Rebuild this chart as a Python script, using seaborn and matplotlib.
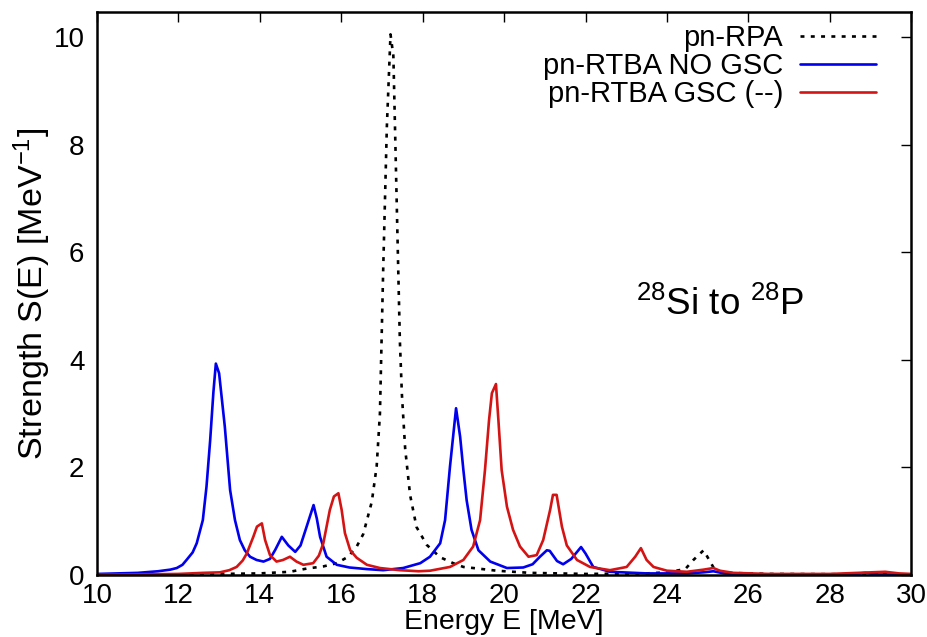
import matplotlib
matplotlib.use("Agg")
import matplotlib.pyplot as plt
import seaborn as sns
import pandas as pd

# Strength functions S(E) [MeV^-1] vs excitation energy E [MeV]
rpa_E = [10.0, 12.0, 13.0, 14.0, 14.74, 15.15, 15.56, 15.89, 16.17, 16.38, 16.54,
         16.75, 16.87, 16.95, 16.99, 17.03, 17.12, 17.21, 17.28, 17.32, 17.36, 17.40,
         17.44, 17.49, 17.57, 17.69, 17.85, 18.1, 18.43, 18.75, 19.0, 19.24, 19.82,
         20.64, 22.0, 23.5, 24.0, 24.45, 24.65, 24.9, 25.06, 25.18, 25.5, 26.5, 30.0]
rpa_S = [0.01, 0.01, 0.02, 0.03, 0.06, 0.12, 0.16, 0.22, 0.34, 0.53, 0.76,
         1.36, 2.02, 3.0, 4.35, 5.67, 8.33, 10.05, 9.65, 8.33, 7.0, 5.67,
         4.35, 3.35, 2.35, 1.49, 0.89, 0.56, 0.33, 0.22, 0.15, 0.13, 0.08,
         0.04, 0.02, 0.03, 0.05, 0.11, 0.28, 0.46, 0.25, 0.09, 0.04, 0.02, 0.01]

nogsc_E = [10.0, 11.0, 11.5, 11.8, 11.96, 12.1, 12.2, 12.35, 12.45, 12.6, 12.69,
           12.78, 12.86, 12.92, 13.0, 13.14, 13.27, 13.39, 13.51, 13.63, 13.76, 13.92,
           14.09, 14.25, 14.38, 14.54, 14.7, 14.87, 15.0, 15.15, 15.32, 15.4, 15.48,
           15.64, 15.89, 16.2, 16.63, 17.03, 17.52, 17.94, 18.18, 18.43, 18.55, 18.67,
           18.82, 18.92, 19.0, 19.08, 19.2, 19.37, 19.66, 20.07, 20.47, 20.7, 20.88,
           21.05, 21.12, 21.3, 21.45, 21.65, 21.89, 22.0, 22.19, 22.6, 23.5, 24.5,
           24.9, 25.14, 25.4, 26.0, 28.5, 28.87, 29.2, 30.0]
nogsc_S = [0.02, 0.04, 0.07, 0.10, 0.13, 0.19, 0.28, 0.42, 0.59, 1.02, 1.64,
           2.5, 3.4, 3.93, 3.75, 2.76, 1.58, 1.02, 0.65, 0.46, 0.34, 0.28,
           0.25, 0.30, 0.47, 0.71, 0.55, 0.43, 0.55, 0.9, 1.30, 1.05, 0.71,
           0.34, 0.19, 0.14, 0.11, 0.09, 0.13, 0.22, 0.34, 0.59, 1.02, 2.01,
           3.10, 2.57, 1.95, 1.39, 0.84, 0.46, 0.25, 0.13, 0.14, 0.2, 0.34,
           0.46, 0.45, 0.26, 0.2, 0.3, 0.52, 0.4, 0.15, 0.06, 0.03, 0.03,
           0.05, 0.07, 0.03, 0.01, 0.01, 0.04, 0.01, 0.01]

gsc_E = [10.0, 12.0, 12.6, 13.02, 13.25, 13.43, 13.58, 13.68, 13.84, 13.93, 14.05,
         14.13, 14.25, 14.41, 14.57, 14.74, 14.9, 15.07, 15.31, 15.45, 15.56, 15.72,
         15.82, 15.93, 16.01, 16.09, 16.22, 16.38, 16.63, 16.95, 17.44, 17.9, 18.18,
         18.67, 19.0, 19.24, 19.41, 19.53, 19.63, 19.7, 19.8, 19.86, 19.94, 20.07,
         20.22, 20.39, 20.6, 20.8, 20.96, 21.13, 21.2, 21.29, 21.42, 21.54, 21.79,
         22.11, 22.6, 23.01, 23.22, 23.36, 23.5, 23.67, 24.0, 24.49, 24.9, 25.14,
         25.3, 25.63, 26.5, 28.0, 29.36, 29.7, 30.0]
gsc_S = [0.005, 0.02, 0.04, 0.05, 0.09, 0.15, 0.27, 0.40, 0.71, 0.90, 0.96,
         0.65, 0.37, 0.25, 0.28, 0.34, 0.25, 0.19, 0.22, 0.36, 0.59, 1.21,
         1.46, 1.52, 1.21, 0.78, 0.46, 0.32, 0.19, 0.13, 0.09, 0.07, 0.08,
         0.15, 0.28, 0.53, 1.02, 1.95, 2.88, 3.38, 3.55, 2.88, 1.95, 1.27,
         0.84, 0.53, 0.34, 0.37, 0.65, 1.21, 1.49, 1.49, 0.90, 0.55, 0.28,
         0.15, 0.09, 0.15, 0.34, 0.50, 0.28, 0.15, 0.08, 0.06, 0.10, 0.13,
         0.08, 0.04, 0.02, 0.02, 0.06, 0.03, 0.02]

labels = ["pn-RPA", "pn-RTBA NO GSC", "pn-RTBA GSC (--)"]
x_ticks = list(range(10, 31, 2))
y_ticks = list(range(0, 11, 2))

sns.set_style("white")
plt.rcParams["font.family"] = ["Liberation Sans", "DejaVu Sans"]
plt.rcParams["mathtext.fontset"] = "custom"
plt.rcParams["mathtext.rm"] = "Liberation Sans"
plt.rcParams["mathtext.it"] = "Liberation Sans:italic"
for key in ("text.color", "axes.labelcolor", "xtick.color", "ytick.color",
            "axes.edgecolor"):
    plt.rcParams[key] = "black"

fig = plt.figure(figsize=(9.27, 6.37), dpi=100)
ax = fig.add_axes([0.1046, 0.0973, 0.8784, 0.8838])

rpa = pd.DataFrame({"E": rpa_E, "S": rpa_S})
nogsc = pd.DataFrame({"E": nogsc_E, "S": nogsc_S})
gsc = pd.DataFrame({"E": gsc_E, "S": gsc_S})

sns.lineplot(data=rpa, x="E", y="S", ax=ax, color="black", linewidth=1.9,
             label=labels[0])
ax.lines[-1].set_dashes((1.5, 2.4))
sns.lineplot(data=nogsc, x="E", y="S", ax=ax, color="#0000ee", linewidth=1.9,
             label=labels[1])
sns.lineplot(data=gsc, x="E", y="S", ax=ax, color="#d41414", linewidth=1.9,
             label=labels[2])

ax.set_xlim(10, 30)
ax.set_ylim(0, 10.465)
ax.set_xticks(x_ticks)
ax.set_yticks(y_ticks)
ax.tick_params(direction="in", length=7, width=1, top=True, right=True,
               labelsize=20, colors="black")
ax.tick_params(axis="x", pad=6)
ax.tick_params(axis="y", pad=9)
for sp in ax.spines.values():
    sp.set_linewidth(1.8)
    sp.set_color("black")

ax.set_xlabel("Energy E [MeV]", fontsize=20.5)
ax.xaxis.label.set_va("center")
ax.xaxis.set_label_coords(0.5, -0.083)
ax.set_ylabel(r"Strength S(E) [MeV$^{-1}$]", fontsize=24.5, labelpad=0)

ax.text(0.662, 0.48, r"$^{28}$Si to $^{28}$P", transform=ax.transAxes,
        fontsize=26.5, ha="left", va="center")

leg = ax.legend(loc="upper right", bbox_to_anchor=(0.957, 0.978), frameon=False,
                markerfirst=False, fontsize=21, handlelength=2.6,
                handletextpad=0.6, labelspacing=0.0, borderaxespad=0,
                borderpad=0)

fig.savefig("out.png", dpi=100)
